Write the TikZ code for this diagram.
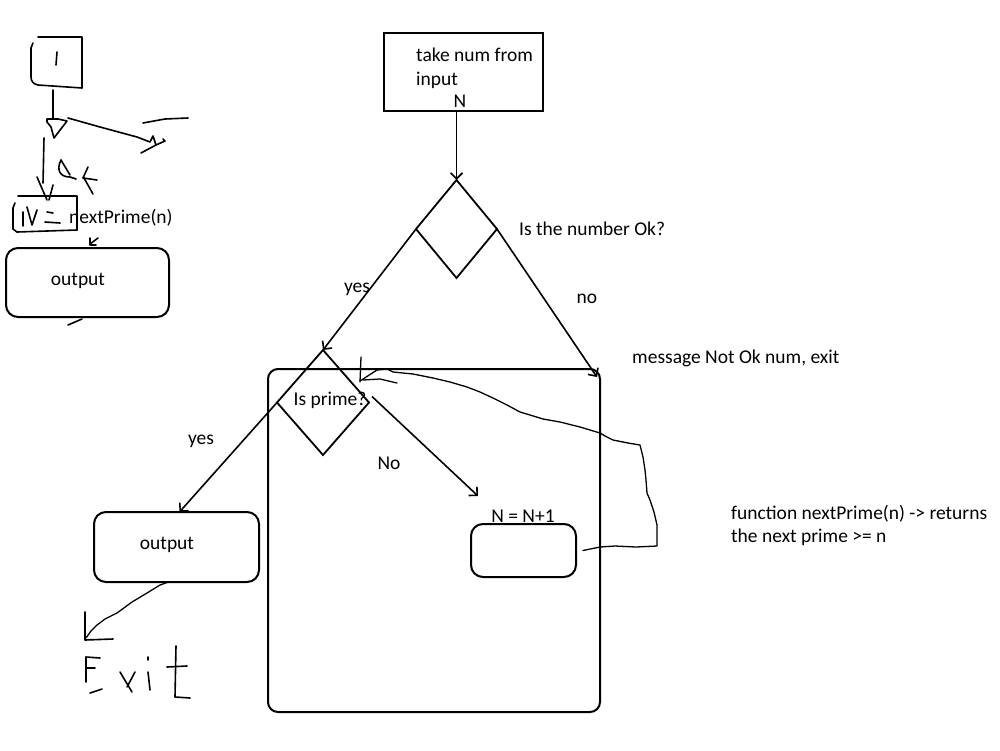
\documentclass[tikz,border=0pt]{standalone}
\usepackage{fontspec}
\setmainfont{Carlito}
\usetikzlibrary{shapes.geometric,arrows.meta}
\begin{document}
\begin{tikzpicture}[x=1pt,y=-1pt,
  lbl/.style={inner sep=0pt, font=\fontsize{19.5}{23}\selectfont},
  box/.style={draw, line width=2pt, inner sep=0pt, outer sep=0pt},
  rbox/.style={box, rounded corners=12pt},
  dia/.style={draw, diamond, line width=1.8pt, inner sep=0pt, outer sep=0pt},
  arr/.style={line width=1.6pt, -{Straight Barb[length=6pt,width=12pt,line width=1.6pt]}},
  hand/.style={line width=1.6pt, line cap=round, line join=round}]
\useasboundingbox (0,0) rectangle (1000,750);

% main flow boxes
\node[box, minimum width=159pt, minimum height=78pt] (tb) at (463.5,72) {};
\node[lbl, anchor=west] (t1) at (416,55) {take num from};
\node[lbl, anchor=west] (t2) at (416,80) {input};
\node[lbl] (t3) at (460,101) {N};

\node[dia, minimum width=81pt, minimum height=98pt] (d1) at (456.5,229) {};
\node[lbl, anchor=west] (q1) at (519,229) {Is the number Ok?};

\node[rbox, rounded corners=10pt, minimum width=332pt, minimum height=343pt] (big) at (434,540.5) {};

\node[dia, minimum width=92pt, minimum height=105pt] (d2) at (323,402.5) {};
\node[lbl] (q2) at (330,400) {Is prime?};

\node[rbox, minimum width=165pt, minimum height=70pt] (out1) at (176.5,547) {};
\node[lbl] (o1) at (167,545) {output};

\node[rbox, minimum width=105pt, minimum height=53pt] (nbox) at (523.5,550.5) {};
\node[lbl] (nl) at (523,516) {N = N+1};

\node[lbl] (yes1) at (357,289) {yes};
\node[lbl] (no1) at (587,299) {no};
\node[lbl, anchor=west] (msg) at (632,358) {message Not Ok num, exit};
\node[lbl] (yes2) at (201,441) {yes};
\node[lbl] (no2) at (389,463) {No};
\node[lbl, anchor=west] (f1) at (731,514) {function nextPrime(n) -> returns};
\node[lbl, anchor=west] (f2) at (731,537) {the next prime >= n};

% connectors
\draw[arr] (d1.north |- tb.south) -- (d1.north);
\draw[arr] (d1.west) -- (d2.north);
\coordinate (noend) at (597,377);
\draw[arr] (d1.east) -- (noend);
\draw[arr] (d2.west) -- ([xshift=3pt]out1.north);
\coordinate (nostart) at ([shift={(3pt,6pt)}]d2.east);
\coordinate (noend2) at (478,496);
\draw[arr] (nostart) -- (noend2);

% freehand loop back from N = N+1
\coordinate (lp) at ([xshift=7pt]nbox.east);
\draw[hand, line width=1.3pt] (lp) -- (600,547) -- (615,546) -- (636,547) -- (657,546) -- (657,525) -- (654,512)
  -- (650,500) -- (647,493) -- (646,480) -- (645,470) -- (643,457) -- (640,445) -- (628,443) -- (613,440)
  -- (605,436) -- (600,433) -- (590,430) -- (580,427) -- (560,422) -- (543,419) -- (530,415) -- (520,412)
  -- (507,405) -- (493,398) -- (480,392) -- (467,387) -- (450,382) -- (433,378) -- (413,374) -- (393,372) -- (387,369);
\draw[hand, line width=1.3pt] (361,357) -- (360,382);
\draw[hand, line width=1.3pt] (360,381) -- (377,370) -- (387,369);
\draw[hand, line width=1.3pt] (363,380) -- (380,379) -- (397,383);

% handwritten exit
\coordinate (es) at ([xshift=-8pt]out1.south);
\draw[hand, line width=1.3pt] (es) -- (160,585) -- (147,593) -- (132,602) -- (117,613) -- (105,619) -- (97,625) -- (91,631) -- (86,638);
\draw[hand] (85,612) -- (85,640) -- (113,639);
\draw[hand] (86,657) -- (86,682);
\draw[hand] (86,657) -- (100,658);
\draw[hand] (86,668) -- (95,668);
\draw[hand] (90,693) -- (102,689);
\draw[hand] (120,672) -- (132,692);
\draw[hand] (135,672) -- (127,687);
\draw[hand] (148,657) -- (148,660);
\draw[hand] (148,672) -- (150,690);
\draw[hand] (176,646) -- (175,697) -- (190,698);
\draw[hand] (167,667) -- (187,666);

% top-left sketch
\draw[hand] (38,37) -- (82,37) -- (82,88) -- (38,85) .. controls (33,84) and (31,81) .. (31,77) -- (31,48) -- (33,43);
\draw[hand] (57,52) -- (56,65);
\draw[hand] (53,90) -- (53,118);
\draw[hand] (47,119) -- (58,119) -- (67,121) -- (54,138) -- (51,127) -- (47,122) -- cycle;
\draw[hand] (68,118) -- (100,127) -- (137,137) -- (150,142) -- (153,136) -- (156,145) -- (141,153);
\draw[hand] (156,145) -- (165,141) -- (163,139);
\draw[hand] (143,123) -- (165,119) -- (188,118);
\draw[hand] (44,138) -- (43,183);
\draw[hand] (37,177) -- (47,200);
\draw[hand] (53,185) -- (49,200);
\draw[hand] (61,160) .. controls (56,170) and (60,177) .. (70,177) -- (76,179);
\draw[hand] (61,160) -- (70,175);
\draw[hand] (88,167) -- (83,178);
\draw[hand] (83,178) -- (97,180);
\draw[hand] (84,178) -- (93,194);
\draw[hand] (18,196) -- (77,196) -- (77,230);
\draw[hand] (17,232) -- (77,230);
\draw[hand] (15,203) -- (13,208) -- (13,229) -- (17,232);
\draw[hand] (23,212) -- (23,226);
\draw[hand] (27,207) -- (32,225) -- (37,210);
\draw[hand] (47,212) -- (53,213);
\draw[hand] (45,222) -- (60,223);
\node[lbl, anchor=west] (np) at (69,218) {nextPrime(n)};
\draw[hand] (98,238) -- (90,244);
\draw[hand] (90,238) -- (90,245) -- (96,245);
\node[rbox, minimum width=163pt, minimum height=69pt] (out0) at (87.5,282.5) {};
\node[lbl] (o0) at (78,281) {output};
\draw[hand] (68,325) -- (82,319);
\end{tikzpicture}
\end{document}
